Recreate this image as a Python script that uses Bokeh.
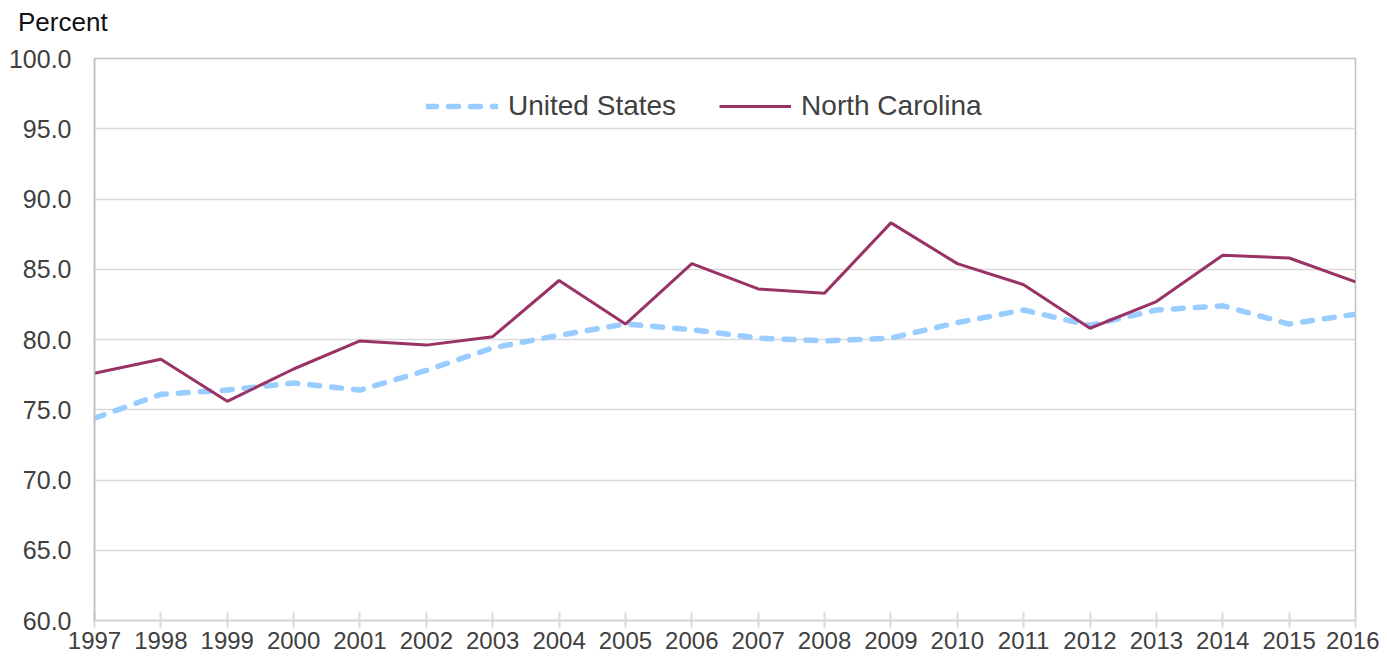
from bokeh.plotting import figure
from bokeh.models import ColumnDataSource, FixedTicker, NumeralTickFormatter, Legend, LegendItem, Range1d, Div
from bokeh.layouts import column
from bokeh.embed import file_html
from bokeh.resources import INLINE

years = list(range(1997, 2017))
us = [74.4, 76.1, 76.4, 76.9, 76.4, 77.8, 79.4, 80.3, 81.1, 80.7,
      80.1, 79.9, 80.1, 81.2, 82.1, 81.0, 82.1, 82.4, 81.1, 81.8]
nc = [77.6, 78.6, 75.6, 77.9, 79.9, 79.6, 80.2, 84.2, 81.1, 85.4,
      83.6, 83.3, 88.3, 85.4, 83.9, 80.8, 82.7, 86.0, 85.8, 84.1]
y_ticks = [60, 65, 70, 75, 80, 85, 90, 95, 100]

FONT = "Liberation Sans"
src = ColumnDataSource(dict(year=years, us=us, nc=nc))

header = Div(text="Percent", width=300, height=36, margin=(0, 0, 0, 18),
             styles={"font-family": FONT, "font-size": "26px", "color": "#111111",
                     "line-height": "30px", "padding-top": "7px"})

p = figure(width=1379, height=626, output_backend="svg", toolbar_location=None,
           x_range=Range1d(1997, 2016), y_range=Range1d(60, 100),
           min_border_left=94, min_border_right=24, min_border_top=22, min_border_bottom=42,
           background_fill_color="white", border_fill_color="white", margin=(0, 0, 0, 0))

p.outline_line_color = "#bfbfbf"
p.outline_line_width = 1.5

p.xgrid.grid_line_color = None
p.ygrid.grid_line_color = "#d9d9d9"
p.ygrid.grid_line_width = 1.5

p.xaxis.ticker = FixedTicker(ticks=years)
p.xaxis.axis_line_color = "#d9d9d9"
p.xaxis.axis_line_width = 2
p.xaxis.major_tick_line_color = "#d9d9d9"
p.xaxis.major_tick_line_width = 2
p.xaxis.major_tick_in = 8
p.xaxis.major_tick_out = 7
p.xaxis.minor_tick_line_color = None
p.xaxis.major_label_text_font = FONT
p.xaxis.major_label_text_font_size = "24px"
p.xaxis.major_label_text_color = "#404040"
p.xaxis.major_label_standoff = 4

p.yaxis.ticker = FixedTicker(ticks=y_ticks)
p.yaxis.formatter = NumeralTickFormatter(format="0.0")
p.yaxis.axis_line_color = "#bfbfbf"
p.yaxis.axis_line_width = 1.5
p.yaxis.major_tick_line_color = None
p.yaxis.minor_tick_line_color = None
p.yaxis.major_label_text_font = FONT
p.yaxis.major_label_text_font_size = "25px"
p.yaxis.major_label_text_color = "#404040"
p.yaxis.major_label_standoff = 17

r_us = p.line("year", "us", source=src, line_color="#99ccff", line_width=5.5,
              line_dash="10 12", line_cap="round")
r_nc = p.line("year", "nc", source=src, line_color="#993366", line_width=3)

legend = Legend(items=[LegendItem(label="United States", renderers=[r_us]),
                       LegendItem(label="North Carolina", renderers=[r_nc])],
                location=(332, 498), orientation="horizontal",
                border_line_color=None, background_fill_alpha=0,
                label_text_font=FONT, label_text_font_size="28px", label_text_color="#404040",
                glyph_width=72, glyph_height=22, label_standoff=10, spacing=43,
                margin=0, padding=0)
p.add_layout(legend)

layout = column(header, p, spacing=0)

open("out.html", "w").write(file_html(layout, INLINE))
